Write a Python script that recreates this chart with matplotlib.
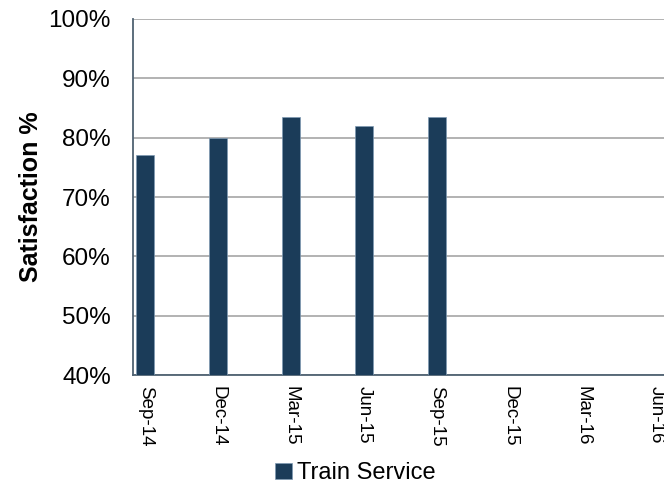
import numpy as np
import matplotlib
matplotlib.use("Agg")
import matplotlib.pyplot as plt
from matplotlib.ticker import PercentFormatter

plt.rcParams['font.family'] = ['Liberation Sans', 'DejaVu Sans']

# quarterly survey results, months counted from Sep-14
months = [0, 3, 6, 9, 12]
satisfaction = [77.0, 80.0, 83.4, 82.0, 83.4]
tick_months = [0, 3, 6, 9, 12, 15, 18, 21]
tick_labels = ['Sep-14', 'Dec-14', 'Mar-15', 'Jun-15', 'Sep-15', 'Dec-15', 'Mar-16', 'Jun-16']
series_name = 'Train Service'

bar_color = '#1B3C59'
spine_color = '#4F6272'

fig = plt.figure(figsize=(6.64, 4.86), dpi=100)
ax = fig.add_axes([133 / 664, 1 - 375 / 486, 535 / 664, 356 / 486])

ax.bar(months, satisfaction, width=0.74, color=bar_color, edgecolor='#7F9AB3',
       linewidth=0.5, label=series_name, zorder=3)

ax.set_ylim(40, 100)
ax.set_xlim(-0.5, 21.5)
ax.set_yticks(np.arange(40, 101, 10))
ax.yaxis.set_major_formatter(PercentFormatter(decimals=0))
ax.grid(axis='y', color='#A6A6A6', linewidth=1.2, zorder=0)

ax.set_xticks(tick_months)
ax.set_xticklabels(tick_labels, rotation=-90, fontsize=13.5,
                   rotation_mode='anchor', ha='left', va='center')
ax.tick_params(axis='y', labelsize=17.5, length=0, pad=16)
ax.tick_params(axis='x', length=0, pad=8)

for side in ['top', 'right']:
    ax.spines[side].set_visible(False)
for side in ['left', 'bottom']:
    ax.spines[side].set_color(spine_color)
    ax.spines[side].set_linewidth(1.3)

ax.set_ylabel('Satisfaction %', fontsize=18, fontweight='bold', labelpad=4)

fig.legend(loc='lower center', bbox_to_anchor=(0.535, -0.04), frameon=False,
           fontsize=17, handlelength=0.7, handleheight=0.7, handletextpad=0.2)

fig.savefig('out.png', dpi=100)
